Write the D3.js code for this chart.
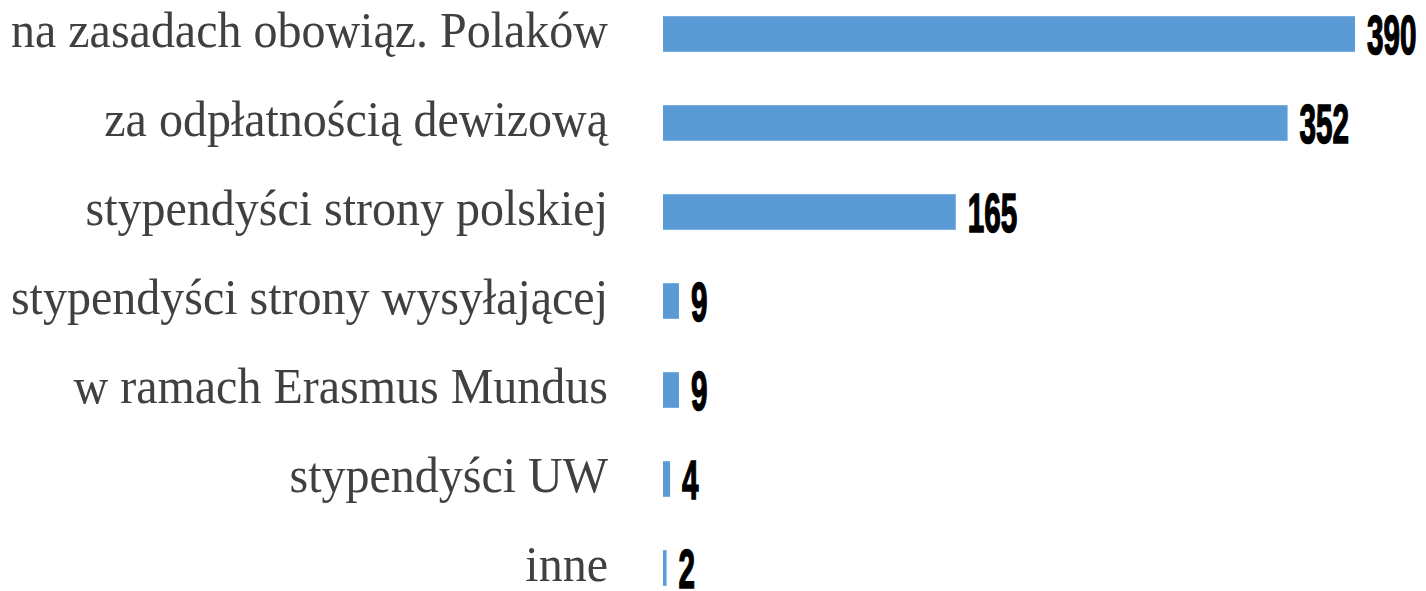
<!DOCTYPE html>
<html><head><meta charset="utf-8">
<script src="https://cdn.jsdelivr.net/npm/d3@7"></script>
<style>html,body{margin:0;padding:0;background:#fff;overflow:hidden}</style>
</head><body>
<svg id="chart" width="1426" height="591"></svg>
<script>
const categories = ["na zasadach obowiąz. Polaków","za odpłatnością dewizową","stypendyści strony polskiej","stypendyści strony wysyłającej","w ramach Erasmus Mundus","stypendyści UW","inne"];
const values = [390, 352, 165, 9, 9, 4, 2];

const svg = d3.select("#chart");
const x = d3.scaleLinear().domain([0, 390]).range([663, 1355]);
const y = d3.scaleBand().domain(categories).range([-10.5, 612.5]).paddingInner(0.6).paddingOuter(0.3);

svg.selectAll("rect.bar").data(categories).join("rect")
  .attr("class","bar")
  .attr("x", x(0))
  .attr("y", d => y(d))
  .attr("width", (d,i) => x(values[i]) - x(0))
  .attr("height", y.bandwidth())
  .attr("fill", "#5b9bd5");

svg.selectAll("text.cat").data(categories).join("text")
  .attr("class","cat")
  .attr("transform", d => `translate(608,${y(d) + y.bandwidth()/2 + 13}) scale(1,1.05)`)
  .attr("text-anchor","end")
  .attr("font-family","'Liberation Serif', 'Times New Roman', serif")
  .attr("font-size", 48)
  .attr("fill","#404040")
  .text(d => d);

svg.selectAll("text.val").data(categories).join("text")
  .attr("class","val")
  .attr("transform", (d,i) => `translate(${x(values[i]) + 12},${y(d) + y.bandwidth()/2 + 20}) scale(0.53,1)`)
  .attr("font-family","'Liberation Sans', Arial, sans-serif")
  .attr("font-weight","bold")
  .attr("font-size", 56)
  .attr("fill","#000")
  .attr("stroke","#000")
  .attr("stroke-width", 1.6)
  .text((d,i) => values[i]);
</script>
</body></html>
